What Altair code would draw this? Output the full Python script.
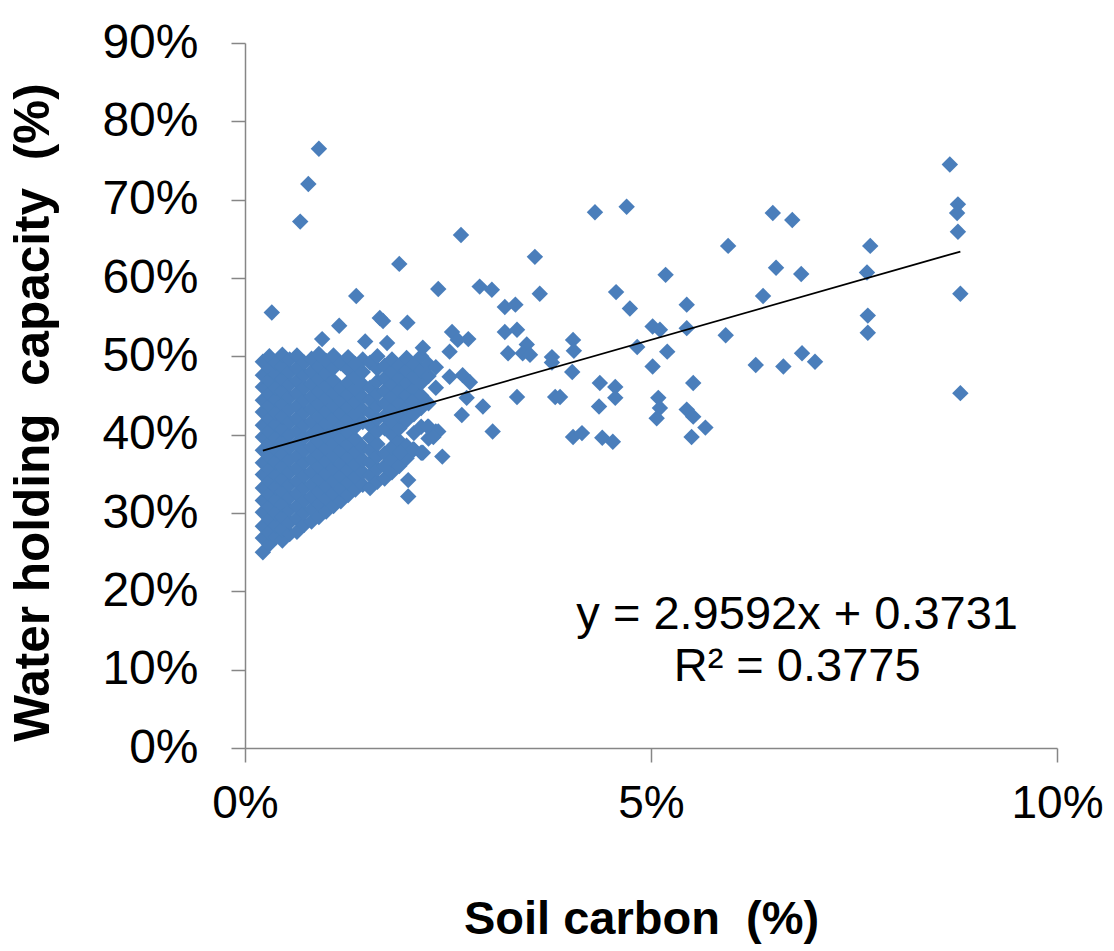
import altair as alt
import pandas as pd

# ---- data (soil carbon %, water holding capacity %) ----
# dense cluster, read column by column (x value, then its y values)
cluster_x = [0.22, 0.30, 0.38, 0.46, 0.55, 0.64, 0.73, 0.82, 0.91, 1.00,
             1.09, 1.18, 1.27, 1.36, 1.45, 1.54, 1.63, 1.72, 1.81, 1.90,
             1.99, 2.08, 2.17, 2.26, 2.35]
cluster_y = [
    [25.0, 26.8, 28.3, 30.1, 31.6, 33.2, 34.9, 36.4, 38.0, 39.7, 41.2, 42.9, 44.4, 46.1, 47.6, 49.3],
    [26.0, 27.5, 29.2, 30.8, 32.4, 34.0, 35.6, 37.2, 38.9, 40.4, 42.0, 43.7, 45.2, 46.9, 48.4, 50.0],
    [26.9, 28.4, 30.0, 31.7, 33.3, 34.8, 36.5, 38.1, 39.6, 41.3, 42.8, 44.5, 46.0, 47.7, 49.2],
    [26.5, 27.9, 29.5, 31.1, 32.7, 34.3, 35.9, 37.5, 39.1, 40.7, 42.3, 43.9, 45.5, 47.1, 48.7, 50.2],
    [27.3, 28.8, 30.4, 32.0, 33.6, 35.2, 36.8, 38.4, 40.0, 41.6, 43.2, 44.8, 46.4, 48.0, 49.6],
    [27.6, 29.3, 30.9, 32.5, 34.1, 35.7, 37.3, 38.9, 40.5, 42.1, 43.7, 45.3, 46.9, 48.5, 50.1],
    [28.5, 30.0, 31.6, 33.2, 34.8, 36.4, 38.0, 39.6, 41.2, 42.8, 44.4, 46.0, 47.6, 49.2],
    [28.9, 30.5, 32.1, 33.7, 35.3, 36.9, 38.5, 40.1, 41.7, 43.3, 44.9, 46.5, 48.1, 49.7],
    [29.5, 31.1, 32.7, 34.3, 35.9, 37.5, 39.1, 40.7, 42.3, 43.9, 45.5, 47.1, 48.7, 50.3],
    [30.2, 31.8, 33.4, 35.0, 36.6, 38.2, 39.8, 41.4, 43.0, 44.6, 46.2, 47.8, 49.4],
    [30.9, 32.5, 34.1, 35.7, 37.3, 38.9, 40.5, 42.1, 43.7, 45.3, 46.9, 48.5, 50.1],
    [31.5, 33.1, 34.7, 36.3, 37.9, 39.5, 41.1, 42.7, 44.3, 45.9, 49.1],
    [32.3, 33.9, 35.5, 37.1, 38.7, 40.3, 41.9, 43.5, 45.1, 46.7, 48.3, 49.9],
    [33.0, 34.6, 36.2, 37.8, 39.4, 41.0, 42.6, 44.2, 45.8, 47.4, 49.0],
    [33.6, 35.2, 36.8, 38.4, 41.6, 43.2, 44.8, 46.4, 48.0, 49.6],
    [33.2, 34.8, 36.4, 38.0, 39.6, 41.2, 42.8, 44.4, 46.0, 49.2],
    [34.0, 35.6, 37.2, 38.8, 40.4, 42.0, 43.6, 45.2, 46.8, 48.4, 50.0],
    [34.4, 36.0, 37.6, 40.8, 42.4, 44.0, 45.6, 47.2, 48.8],
    [35.2, 36.8, 38.4, 40.0, 41.6, 43.2, 44.8, 46.4, 48.0, 49.6],
    [36.0, 39.2, 40.8, 42.4, 44.0, 45.6, 47.2, 48.8],
    [37.0, 38.6, 41.8, 43.4, 45.0, 46.6, 48.2, 49.8],
    [38.1, 40.2, 42.6, 44.2, 45.8, 47.4, 49.0],
    [37.7, 41.0, 43.4, 45.0, 46.6, 48.2, 50.0],
    [39.5, 41.0, 44.0, 47.5, 49.0],
    [40.4, 46.0, 48.6],
]

# scattered points outside the dense cluster
sparse_x = [0.91, 0.78, 0.68, 0.33, 1.90, 2.66, 1.37, 2.38,
            0.95, 1.16, 1.48, 1.75, 1.66, 1.70, 2.00, 2.19,
            2.89, 3.04, 3.57, 3.63, 3.20, 3.33,
            2.55, 2.62, 2.75, 2.52, 3.20, 3.35, 3.47, 3.24, 3.42, 3.51, 3.78, 3.78, 4.04, 4.05, 4.03,
            2.52, 2.68, 2.77, 2.73, 3.35, 3.82, 2.93, 2.67, 3.05,
            2.25, 2.38, 2.32, 2.06, 2.43, 2.01, 2.01, 1.91, 2.07, 2.19,
            4.31, 4.70, 6.50, 6.74, 5.95, 5.18, 6.54, 6.85, 4.57, 4.74, 5.44, 6.38,
            5.02, 5.11, 5.44, 5.92, 4.83, 5.20, 5.02, 6.29, 6.63, 6.86, 7.02,
            4.37, 4.56, 4.56, 5.52, 4.36, 5.09, 5.11, 5.07, 5.44, 5.52,
            4.04, 4.15, 4.40, 4.53, 5.50, 5.67, 3.88,
            7.70, 7.66, 8.68, 8.78, 8.77, 8.78, 8.81, 8.81, 7.67, 7.67]
sparse_y = [76.5, 72.0, 67.2, 55.6, 61.8, 65.5, 57.7, 58.6,
            52.2, 53.9, 51.9, 51.7, 54.9, 54.5, 54.3, 51.1,
            58.9, 58.5, 62.7, 58.0, 56.3, 56.6,
            53.1, 52.1, 52.2, 50.6, 53.1, 53.4, 51.5, 50.4, 50.4, 50.2, 49.9, 49.2, 52.1, 50.7, 48.0,
            47.4, 47.6, 46.7, 44.7, 44.8, 44.8, 43.6, 42.5, 40.4,
            41.0, 40.4, 39.7, 44.2, 37.2, 34.2, 32.1, 37.7, 38.1, 37.7,
            68.4, 69.1, 68.3, 67.4, 64.1, 60.4, 61.3, 60.5, 58.2, 56.1, 56.6, 57.7,
            53.8, 53.4, 53.6, 52.7, 51.2, 50.6, 48.7, 48.9, 48.7, 50.4, 49.3,
            46.6, 46.1, 44.7, 46.6, 43.6, 44.7, 43.4, 42.1, 43.2, 42.3,
            39.7, 40.2, 39.6, 39.1, 39.7, 40.9, 44.8,
            64.1, 60.7, 74.5, 69.4, 68.3, 65.9, 58.0, 45.3, 55.2, 53.0]

# linear trend (Excel): y = 2.9592x + 0.3731 (fractions)
slope = 2.9592
intercept = 0.3731
eq_lines = ["y = 2.9592x + 0.3731", "R\u00b2 = 0.3775"]

x_ticks = [0, 5, 10]
y_ticks = [0, 10, 20, 30, 40, 50, 60, 70, 80, 90]

# ---- build tables ----
xs, ys = [], []
for cx, col in zip(cluster_x, cluster_y):
    for v in col:
        xs.append(cx)
        ys.append(v)
xs += sparse_x
ys += sparse_y
df = pd.DataFrame({"carbon": xs, "whc": ys})

x_lo, x_hi = min(xs), max(xs)
line_df = pd.DataFrame({
    "carbon": [x_lo, x_hi],
    "whc": [100 * (slope * x_lo / 100 + intercept), 100 * (slope * x_hi / 100 + intercept)],
})

FONT = "Liberation Sans"
AXIS_GREY = "#868686"

x_scale = alt.Scale(domain=[0, 10], nice=False, zero=True)
y_scale = alt.Scale(domain=[0, 90], nice=False, zero=True)

x_axis = alt.Axis(
    values=x_ticks, labelExpr="datum.value + '%'", grid=False,
    tickSize=14, tickColor=AXIS_GREY, tickWidth=1.5,
    domainColor=AXIS_GREY, domainWidth=1.5,
    labelFont=FONT, labelFontSize=46, labelColor="black", labelPadding=19,
    labelBaseline="top", labelFlush=False,
    title="Soil carbon \u00a0(%)", titleFont=FONT, titleFontSize=47,
    titleFontWeight="bold", titleColor="black",
    titleX=396, titleY=185, titleAlign="center", titleBaseline="alphabetic",
)
y_axis = alt.Axis(
    values=y_ticks, labelExpr="datum.value + '%'", grid=False,
    tickSize=14, tickColor=AXIS_GREY, tickWidth=1.5,
    domainColor=AXIS_GREY, domainWidth=1.5,
    labelFont=FONT, labelFontSize=48, labelColor="black", labelPadding=33,
    labelFlush=False,
    title="Water holding \u00a0capacity \u00a0(%)", titleFont=FONT, titleFontSize=49.5,
    titleFontWeight="bold", titleColor="black",
    titleX=-197, titleY=369, titleAlign="center", titleBaseline="alphabetic",
)

points = alt.Chart(df).mark_point(
    shape="diamond", filled=True, size=270, color="#4A7EBB", opacity=1
).encode(
    x=alt.X("carbon:Q", scale=x_scale, axis=x_axis),
    y=alt.Y("whc:Q", scale=y_scale, axis=y_axis),
)

trend = alt.Chart(line_df).mark_line(color="black", strokeWidth=1.8).encode(
    x="carbon:Q", y="whc:Q"
)

eq1 = alt.Chart().mark_text(
    font=FONT, fontSize=47, color="black", align="center", baseline="middle"
).encode(x=alt.datum(6.8), y=alt.datum(17.0), text=alt.value(eq_lines[0]))
eq2 = alt.Chart().mark_text(
    font=FONT, fontSize=47, color="black", align="center", baseline="middle"
).encode(x=alt.datum(6.8), y=alt.datum(10.4), text=alt.value(eq_lines[1]))

chart = alt.layer(points, trend, eq1, eq2).properties(
    width=812, height=705,
    padding={"left": 245, "top": 43, "right": 57, "bottom": 203},
    autosize=alt.AutoSizeParams(type="none"),
    background="white",
).configure_view(stroke=None)

chart.save("out.html", embed_options={"renderer": "svg", "actions": False})
